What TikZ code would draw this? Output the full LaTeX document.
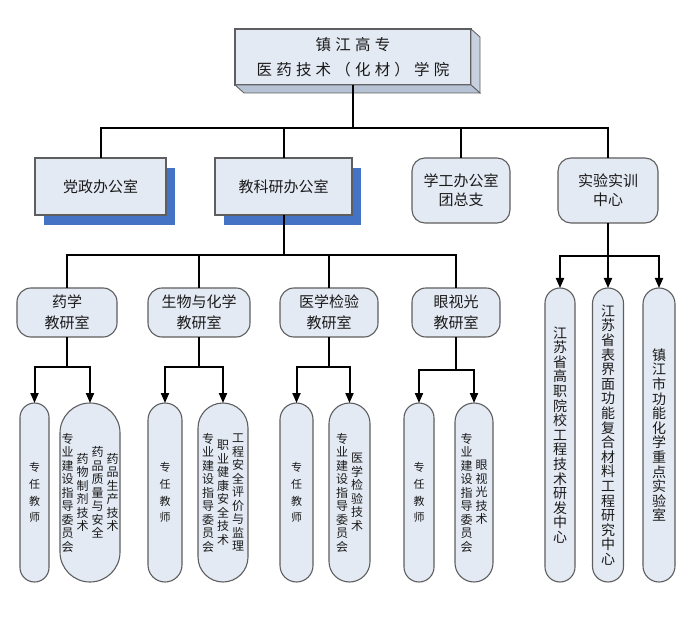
\documentclass[tikz,border=0pt]{standalone}
\usepackage{fontspec}
\setmainfont{Noto Sans CJK SC}
\newfontfamily\zjtitlefont[LetterSpace=27]{Noto Sans CJK SC}
\usetikzlibrary{arrows.meta,shadows}
\definecolor{zjFill}{HTML}{E4EAF4}
\definecolor{zjEdge}{HTML}{5E5E5E}
\definecolor{zjShadow}{HTML}{4472C4}
\definecolor{zjSide}{HTML}{C6D0DF}
\definecolor{zjBase}{HTML}{B7C3D5}
\definecolor{zjInk}{HTML}{1A1A1A}
% one column of upright characters, centred on its middle
\makeatletter
\newcommand\vcol[2][14pt]{\parbox[c]{1em}{\baselineskip=#1\lineskip=0pt\lineskiplimit=-50pt\@tfor\vch:=#2\do{\hbox to 1em{\hss\vch\hss}}}}
\makeatother
\newcommand\vgap{\hspace{3pt}}
\tikzset{
  zj box/.style={draw=zjEdge, fill=zjFill, line width=1.1pt, inner sep=0pt, outer sep=0pt, align=center, text=zjInk, font=\fontsize{15}{19}\selectfont},
  zj shadowed/.style={zj box, drop shadow={shadow xshift=9pt, shadow yshift=-10pt, fill=zjShadow, opacity=1}},
  zj round/.style={zj box, rounded corners=13},
  zj room/.style={zj box, rounded corners=14, minimum height=49, font=\fontsize{15}{21}\selectfont},
  zj pill/.style={zj box, minimum width=#1, rounded corners=#1/2, font=\fontsize{12}{14}\selectfont},
  zj teacher/.style={zj pill=#1, minimum height=179, font=\fontsize{11}{12}\selectfont},
  zj link/.style={draw=black, line width=2pt},
  zj arrow/.style={zj link, -{Triangle[length=10pt,width=8pt]}},
}
\begin{document}
\begin{tikzpicture}[x=1pt,y=-1pt]
  \useasboundingbox (0,0) rectangle (698,617);

  % College at the top, with its bevel
  \node[zj box, minimum width=236, minimum height=56, font=\zjtitlefont\fontsize{15.5}{25}\selectfont] (top) at (353,57) {镇江高专\\医药技术（化材）学院};
  \filldraw[draw=zjEdge, fill=zjSide, line width=0.8pt] (top.north east) -- ++(9,8) -- ++(0,56) -- (top.south east) -- cycle;
  \filldraw[draw=zjEdge, fill=zjBase, line width=0.8pt] (top.south west) -- ++(9,8) -- ++(236,0) -- (top.south east) -- cycle;

  % Offices
  \node[zj shadowed, minimum width=131, minimum height=57] (dz) at (100.5,186.5) {党政办公室};
  \node[zj shadowed, minimum width=137, minimum height=57] (jk) at (283.5,186.5) {教科研办公室};
  \node[zj round, minimum width=98, minimum height=65] (xg) at (461,190.5) {学工办公室\\团总支};
  \node[zj round, minimum width=100, minimum height=65] (sy) at (608,190.5) {实验实训\\中心};

  % Teaching and research rooms
  \node[zj room, minimum width=100] (yx) at (67,312.5) {药学\\教研室};
  \node[zj room, minimum width=102] (sh) at (199,312.5) {生物与化学\\教研室};
  \node[zj room, minimum width=98] (yj) at (329,312.5) {医学检验\\教研室};
  \node[zj room, minimum width=88] (ys) at (456,312.5) {眼视光\\教研室};

  % Teachers and committees
  \node[zj teacher=29] (yx-t) at (34.5,492.5) {\vcol[16.7pt]{专任教师}};
  \node[zj pill=60, minimum height=179] (yx-w) at (90,492.5) {\vcol[13.5pt]{专业建设指导委员会}\vgap\vcol[13.5pt]{药物制剂技术}\vgap\vcol[13.5pt]{药品质量与安全}\vgap\vcol[13.5pt]{药品生产技术}};
  \node[zj teacher=34] (sh-t) at (165,492.5) {\vcol[16.7pt]{专任教师}};
  \node[zj pill=50, minimum height=179] (sh-w) at (223,492.5) {\vcol[13.5pt]{专业建设指导委员会}\vgap\vcol[13.5pt]{职业健康安全技术}\vgap\vcol[13.5pt]{工程安全评价与监理}};
  \node[zj teacher=33] (yj-t) at (296.5,492.5) {\vcol[16.7pt]{专任教师}};
  \node[zj pill=41, minimum height=179] (yj-w) at (349.5,492.5) {\vcol[13.5pt]{专业建设指导委员会}\vgap\vcol[13.5pt]{医学检验技术}};
  \node[zj teacher=30] (ys-t) at (419,492.5) {\vcol[16.7pt]{专任教师}};
  \node[zj pill=38, minimum height=179] (ys-w) at (474,492.5) {\vcol[13.5pt]{专业建设指导委员会}\vgap\vcol[13.5pt]{眼视光技术}};

  % Research centres
  \node[zj pill=30, minimum height=294, font=\fontsize{14}{15}\selectfont] (r1) at (560,435) {\vcol[14.6pt]{江苏省高职院校工程技术研发中心}};
  \node[zj pill=31, minimum height=294, font=\fontsize{14}{15}\selectfont] (r2) at (608,435) {\vcol[14.6pt]{江苏省表界面功能复合材料工程研究中心}};
  \node[zj pill=32, minimum height=294, font=\fontsize{14}{15}\selectfont] (r3) at (659,435) {\vcol[14.6pt]{镇江市功能化学重点实验室}};

  % Connectors
  \path (top.south) ++(0,43) coordinate (top-bus);
  \foreach \n in {dz,jk,xg,sy}
    \draw[zj link] (top.south) -- (top-bus) -| (\n.north);

  \path (jk.south) ++(0,40) coordinate (jk-bus);
  \foreach \n in {yx,sh,yj,ys}
    \draw[zj link] (jk.south) -- (jk-bus) -| (\n.north);

  \foreach \room/\dy in {yx/30,sh/30,yj/30,ys/33} {
    \path (\room.south) ++(0,\dy) coordinate (\room-bus);
    \foreach \p in {t,w}
      \draw[zj arrow] (\room.south) -- (\room-bus) -| (\room-\p.north);
  }

  \path (sy.south) ++(0,33) coordinate (sy-bus);
  \foreach \p in {r1,r2,r3}
    \draw[zj arrow] (sy.south) -- (sy-bus) -| (\p.north);
\end{tikzpicture}
\end{document}
